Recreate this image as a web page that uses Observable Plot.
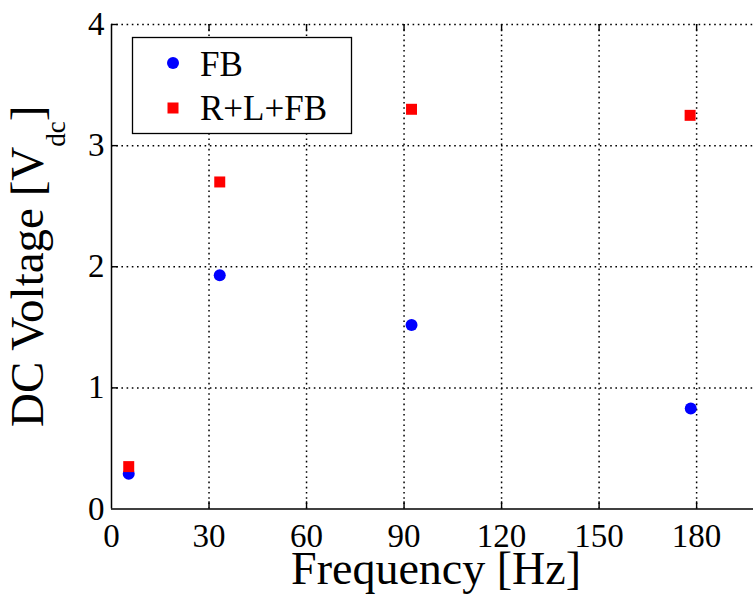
<!DOCTYPE html>
<html><head><meta charset="utf-8">
<script src="https://cdn.jsdelivr.net/npm/d3@7"></script>
<script src="https://cdn.jsdelivr.net/npm/@observablehq/plot@0.6"></script>
<style>html,body{margin:0;padding:0;background:#fff;overflow:hidden}</style>
</head><body><div id="chart"></div>
<script>
// ---- data ----
const seriesNames = ["FB", "R+L+FB"];
const fbFreq = [5.3, 33.3, 92.3, 178.2];
const fbVolt = [0.29, 1.93, 1.52, 0.83];
const rlfbFreq = [5.3, 33.3, 92.3, 178.0];
const rlfbVolt = [0.35, 2.70, 3.30, 3.25];
const xTicks = [0, 30, 60, 90, 120, 150, 180];
const yTicks = [0, 1, 2, 3, 4];
const xLabel = "Frequency [Hz]";
const yLabelParts = ["DC Voltage [V", "dc", "]"];

const fb = fbFreq.map((f, i) => ({f, v: fbVolt[i], s: seriesNames[0]}));
const rlfb = rlfbFreq.map((f, i) => ({f, v: rlfbVolt[i], s: seriesNames[1]}));

const FONT = '"Liberation Serif", "Times New Roman", serif';
const dots = "1.6,3.6";
const fmt = d3.format("d");

const chart = Plot.plot({
  width: 753,
  height: 595,
  marginLeft: 111,
  marginRight: 0,
  marginTop: 24,
  marginBottom: 86.5,
  style: {fontFamily: FONT, fontSize: "33px", color: "#000", background: "#fff"},
  x: {domain: [0, 197.5], label: null},
  y: {domain: [0, 4], label: null},
  marks: [
    Plot.ruleX(xTicks.slice(1), {stroke: "#000", strokeWidth: 1.5, strokeDasharray: dots}),
    Plot.ruleY(yTicks.slice(1), {stroke: "#000", strokeWidth: 1.5, strokeDasharray: dots}),
    // inward ticks
    Plot.ruleX(xTicks.slice(1), {y1: 0, y2: 0.06, stroke: "#000", strokeWidth: 1.4}),
    Plot.ruleX(xTicks.slice(1), {y1: 4, y2: 3.94, stroke: "#000", strokeWidth: 1.4}),
    Plot.ruleY(yTicks.slice(1), {x1: 0, x2: 2.1, stroke: "#000", strokeWidth: 1.4}),
    Plot.ruleX([0], {stroke: "#000", strokeWidth: 1.5}),
    Plot.ruleY([0], {stroke: "#000", strokeWidth: 1.5}),
    Plot.axisX(xTicks, {tickSize: 0, tickPadding: 15, fontSize: 33, fontFamily: FONT, tickFormat: fmt, label: null}),
    Plot.axisY(yTicks, {tickSize: 0, tickPadding: 7, fontSize: 33, fontFamily: FONT, tickFormat: fmt, label: null}),
    Plot.dot(fb, {x: "f", y: "v", r: 6, fill: "#0000ff", stroke: "none", symbol: "circle"}),
    Plot.dot(rlfb, {x: "f", y: "v", r: 6.2, fill: "#ff0000", stroke: "none", symbol: "square"})
  ]
});
document.getElementById("chart").appendChild(chart);

const svg = d3.select(chart);
const sx = chart.scale("x");
const sy = chart.scale("y");

// x label
svg.append("text")
  .attr("x", sx.apply(100)).attr("y", 584)
  .attr("text-anchor", "middle")
  .style("font-family", FONT).attr("font-size", 46).attr("fill", "#000")
  .text(xLabel);

// y label with subscript
const yl = svg.append("text")
  .attr("transform", `translate(43,${(sy.apply(0) + sy.apply(4)) / 2}) rotate(-90)`)
  .attr("text-anchor", "middle")
  .style("font-family", FONT).attr("font-size", 47).attr("fill", "#000");
yl.append("tspan").text(yLabelParts[0]);
yl.append("tspan").attr("font-size", 27).attr("dy", 22).text(yLabelParts[1]);
yl.append("tspan").attr("dy", -22).text(yLabelParts[2]);

// legend
const lg = svg.append("g");
lg.append("rect").attr("x", 132.5).attr("y", 37.5).attr("width", 219).attr("height", 96)
  .attr("fill", "#fff").attr("stroke", "#000").attr("stroke-width", 1.3);
lg.append("circle").attr("cx", 173).attr("cy", 63).attr("r", 6).attr("fill", "#0000ff");
lg.append("rect").attr("x", 167.5).attr("y", 102.5).attr("width", 11).attr("height", 11).attr("fill", "#ff0000");
lg.selectAll("text.lt").data(seriesNames).join("text")
  .attr("class", "lt")
  .attr("x", 200).attr("y", (d, i) => i === 0 ? 75.5 : 120)
  .attr("text-anchor", "start")
  .style("font-family", FONT).attr("font-size", 35).attr("fill", "#000")
  .text(d => d);
</script>
</body></html>
